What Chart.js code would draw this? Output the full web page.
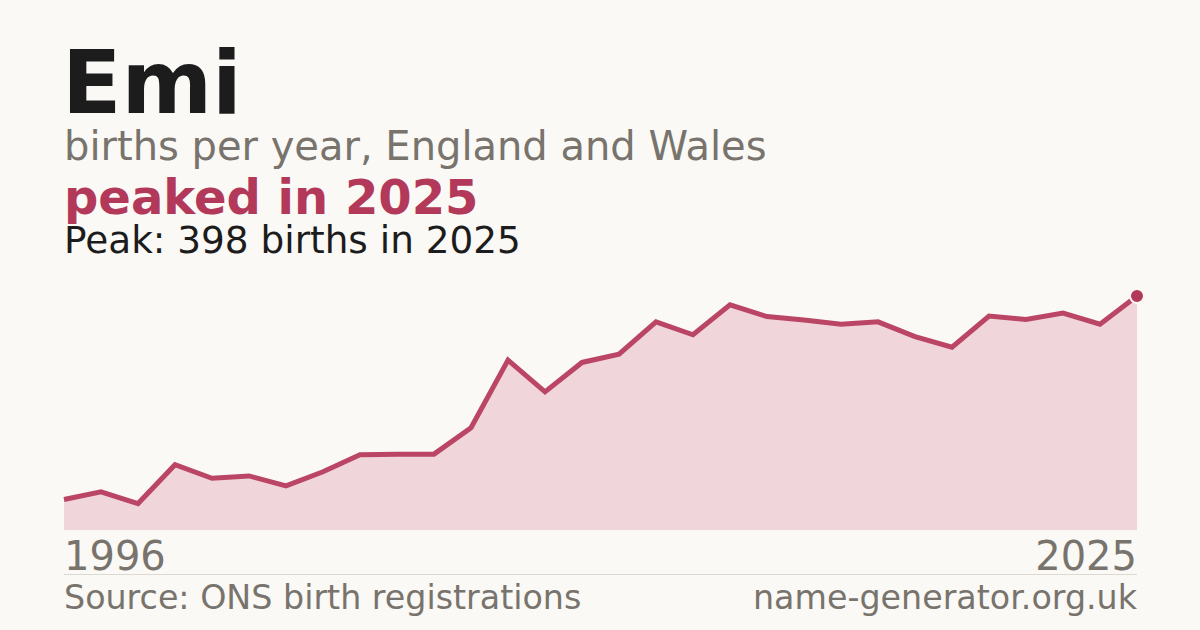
<!DOCTYPE html>
<html>
<head>
<meta charset="utf-8">
<script src="https://cdn.jsdelivr.net/npm/chart.js@4.4.1/dist/chart.umd.min.js"></script>
<style>
  html, body { margin: 0; padding: 0; }
  body {
    width: 1200px; height: 630px; overflow: hidden;
    background: #faf9f5;
    font-family: "DejaVu Sans", sans-serif;
    position: relative;
  }
  .t { position: absolute; line-height: 1; white-space: nowrap; }
  #name { left: 62px; top: 40px; font-size: 87px; font-weight: bold; color: #1c1c1c; }
  #sub { left: 64px; top: 126px; font-size: 40px; color: #78736c; }
  #trend { left: 64px; top: 173px; font-size: 48px; font-weight: bold; color: #b3395a; }
  #peak { left: 64px; top: 222px; font-size: 37.4px; color: #1c1c1c; }
  #firstYear { left: 64px; top: 536px; font-size: 40px; color: #78736c; }
  #lastYear { right: 63px; top: 536px; font-size: 40px; color: #78736c; }
  #rule { position: absolute; left: 64px; width: 1073px; top: 574px; height: 1px; background: #dcd9d1; }
  #source { left: 64px; top: 581px; font-size: 33.3px; color: #78736c; }
  #site { right: 63px; top: 581px; font-size: 33.3px; color: #78736c; }
  #chart { position: absolute; left: 54px; top: 280px; }
</style>
</head>
<body>
<div class="t" id="name">Emi</div>
<div class="t" id="sub">births per year, England and Wales</div>
<div class="t" id="trend">peaked in 2025</div>
<div class="t" id="peak">Peak: 398 births in 2025</div>
<canvas id="chart" width="1093" height="251"></canvas>
<div class="t" id="firstYear">1996</div>
<div class="t" id="lastYear">2025</div>
<div id="rule"></div>
<div class="t" id="source">Source: ONS birth registrations</div>
<div class="t" id="site">name-generator.org.uk</div>
<script>
// Births per year for "Emi"
const years = [1996, 1997, 1998, 1999, 2000, 2001, 2002, 2003, 2004, 2005,
               2006, 2007, 2008, 2009, 2010, 2011, 2012, 2013, 2014, 2015,
               2016, 2017, 2018, 2019, 2020, 2021, 2022, 2023, 2024, 2025];
const births = [52, 65, 45, 111, 88, 92, 75, 99, 128, 129,
                129, 174, 289, 235, 285, 299, 354, 332, 383, 363,
                357, 350, 354, 329, 311, 364, 358, 369, 350, 398];

const accent = '#b3395a';
const lastIdx = births.length - 1;

new Chart(document.getElementById('chart'), {
    type: 'line',
    data: {
        labels: years,
        datasets: [{
            data: births,
            borderColor: '#bb4565',
            borderWidth: 5,
            backgroundColor: '#f0d5da',
            fill: 'origin',
            tension: 0,
            clip: false,
            pointRadius: births.map((v, i) => i === lastIdx ? 7 : 0),
            pointBackgroundColor: accent,
            pointBorderColor: '#faf9f5',
            pointBorderWidth: 2
        }]
    },
    options: {
        responsive: false,
        maintainAspectRatio: false,
        animation: false,
        devicePixelRatio: 1,
        layout: {
            autoPadding: false,
            padding: { left: 10, right: 10, top: 16, bottom: 1 }
        },
        plugins: {
            legend: { display: false },
            tooltip: { enabled: false }
        },
        scales: {
            x: { display: false },
            y: { display: false, min: 0, max: 398 }
        }
    }
});
</script>
</body>
</html>
